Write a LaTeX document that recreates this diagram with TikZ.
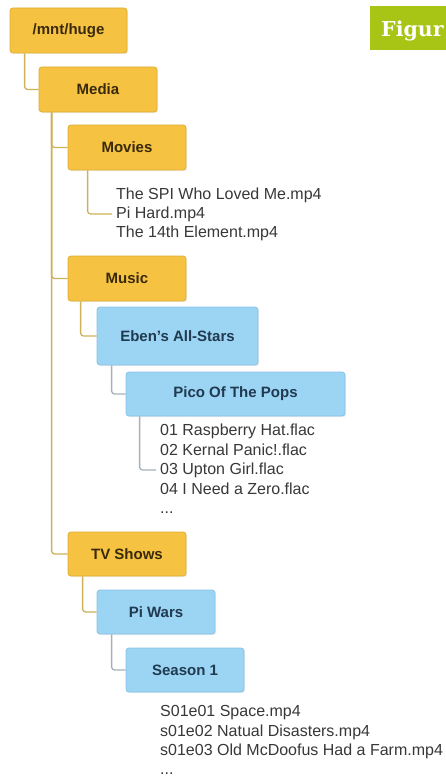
\documentclass[tikz,border=0pt]{standalone}
\usepackage{fontspec}
\setmainfont{Liberation Sans}
\newfontfamily\figfont{DejaVu Serif}
\usetikzlibrary{shadows}
\definecolor{orfill}{HTML}{F5C242}
\definecolor{ordraw}{HTML}{E2AE30}
\definecolor{ortext}{HTML}{3A2A0C}
\definecolor{blfill}{HTML}{9CD4F4}
\definecolor{bldraw}{HTML}{88C2E6}
\definecolor{bltext}{HTML}{203A50}
\definecolor{orline}{HTML}{CDB25A}
\definecolor{blline}{HTML}{A6B0BA}
\definecolor{filetext}{HTML}{383838}
\definecolor{figgreen}{HTML}{A8C414}
\begin{document}
\begin{tikzpicture}[x=1pt,y=-1pt,
  folder/.style={rectangle, rounded corners=3pt, line width=0.8pt, inner sep=0pt,
    font=\fontsize{15}{18}\selectfont\bfseries,
    drop shadow={opacity=0.12, shadow xshift=1.2pt, shadow yshift=-1.2pt}},
  orbox/.style={folder, fill=orfill, draw=ordraw, text=ortext},
  blbox/.style={folder, fill=blfill, draw=bldraw, text=bltext},
  file/.style={anchor=west, inner xsep=4pt, inner ysep=0pt, text=filetext,
    font=\fontsize{16}{18}\selectfont},
  dots/.style={file, anchor=base west},
  orlink/.style={draw=orline, line width=1.3pt, rounded corners=3pt},
  bllink/.style={draw=blline, line width=1.3pt, rounded corners=3pt}]
\useasboundingbox (0,0) rectangle (446,776);
\fill[white] (0,0) rectangle (446,776);

% Figure tab
\fill[figgreen] (370,6) rectangle (446,50);
\node[anchor=base west, inner sep=0pt, text=white, font=\figfont\fontsize{20.5}{24}\selectfont\bfseries] (fig) at (381,37) {Figur};

% folders
\node[orbox, minimum width=117pt, minimum height=45pt] (root) at (68.5,30.5) {/mnt/huge};
\node[orbox, minimum width=118pt, minimum height=45pt] (media) at (98,89.5) {Media};
\node[orbox, minimum width=118pt, minimum height=45pt] (movies) at (127,147.5) {Movies};
\node[orbox, minimum width=118pt, minimum height=45pt] (music) at (127,278.5) {Music};
\node[blbox, minimum width=161pt, minimum height=58pt] (eben) at (177.5,336) {Eben's All-Stars};
\node[blbox, minimum width=219pt, minimum height=44pt] (pico) at (235.5,394) {Pico Of The Pops};
\node[orbox, minimum width=118pt, minimum height=44pt] (tv) at (127,554) {TV Shows};
\node[blbox, minimum width=118pt, minimum height=44pt] (piwars) at (156,612) {Pi Wars};
\node[blbox, minimum width=118pt, minimum height=44pt] (season) at (185,670) {Season 1};

% files
\node[file] (mv1) at (112,195) {The SPI Who Loved Me.mp4};
\node[file] (mv2) at (112,214) {Pi Hard.mp4};
\node[file] (mv3) at (112,233) {The 14th Element.mp4};

\node[file] (pp1) at (156,431) {01 Raspberry Hat.flac};
\node[file] (pp2) at (156,450) {02 Kernal Panic!.flac};
\node[file] (pp3) at (156,470) {03 Upton Girl.flac};
\node[file] (pp4) at (156,489) {04 I Need a Zero.flac};
\node[dots] (pp5) at (156,513) {...};

\node[file] (se1) at (156,713) {S01e01 Space.mp4};
\node[file] (se2) at (156,732) {s01e02 Natual Disasters.mp4};
\node[file] (se3) at (156,751) {s01e03 Old McDoofus Had a Farm.mp4};
\node[dots] (se4) at (156,774) {...};

% connectors
\draw[orlink] ([xshift=15pt]root.south west) |- (media.west);
\draw[orlink] ([xshift=13pt]media.south west) |- (tv.west);
\draw[orlink] ([xshift=13pt]media.south west) |- (movies.west);
\draw[orlink] ([xshift=13pt]media.south west) |- (music.west);
\draw[orlink] ([xshift=20pt]movies.south west) |- (mv2.west);
\draw[orlink] ([xshift=13pt]music.south west) |- (eben.west);
\draw[bllink] ([xshift=15pt]eben.south west) |- (pico.west);
\draw[bllink] ([xshift=14pt]pico.south west) |- (pp3.west);
\draw[orlink] ([xshift=15pt]tv.south west) |- (piwars.west);
\draw[bllink] ([xshift=15pt]piwars.south west) |- (season.west);
\end{tikzpicture}
\end{document}
